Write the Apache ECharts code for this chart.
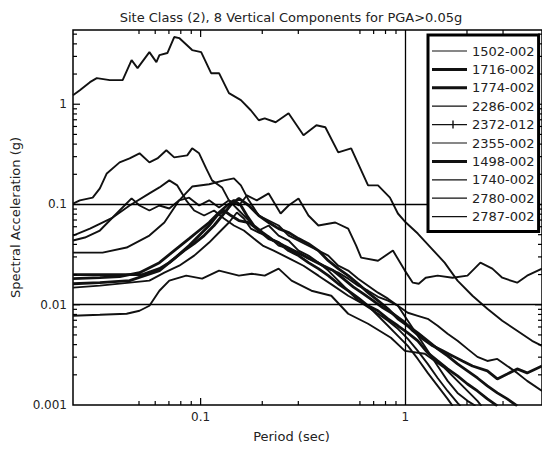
<!DOCTYPE html>
<html>
<head>
<meta charset="utf-8">
<script src="https://cdn.jsdelivr.net/npm/echarts@6/dist/echarts.min.js"></script>
<style>
html,body{margin:0;padding:0;background:#fff;}
#chart{width:542px;height:457px;}
</style>
</head>
<body>
<div id="chart"></div>
<script>
// ---- data: [period (sec), spectral acceleration (g)] ----
const s1502 = [[0.0238,1.23],[0.0257,1.38],[0.0288,1.66],[0.0311,1.82],[0.036,1.74],[0.0416,1.74],[0.046,2.75],[0.0492,2.29],[0.0562,3.31],[0.0608,2.63],[0.0629,3.09],[0.0688,3.24],[0.0743,4.68],[0.0786,4.57],[0.0909,3.47],[0.1006,3.31],[0.1125,2.04],[0.123,2.04],[0.1375,1.29],[0.1573,1.10],[0.1758,0.871],[0.1923,0.692],[0.2056,0.724],[0.2325,0.661],[0.2689,0.813],[0.318,0.49],[0.3677,0.617],[0.4066,0.589],[0.4701,0.331],[0.5437,0.363],[0.6574,0.155],[0.7352,0.155],[0.841,0.117],[0.9195,0.0813],[1.0056,0.0661],[1.15,0.0513],[1.33,0.0372],[1.555,0.0263],[1.798,0.0174],[2.127,0.0123],[2.515,0.00912],[2.974,0.00692],[3.517,0.0055],[4.158,0.00437],[4.651,0.00389]];
const s1716 = [[0.0238,0.02],[0.052,0.02],[0.0629,0.0229],[0.0703,0.0263],[0.0831,0.0347],[0.093,0.0407],[0.104,0.049],[0.1163,0.0617],[0.13,0.0813],[0.1422,0.102],[0.1538,0.115],[0.1719,0.0977],[0.1923,0.0776],[0.215,0.0661],[0.2404,0.0575],[0.2689,0.0525],[0.3007,0.0457],[0.3362,0.0407],[0.376,0.0347],[0.4204,0.0275],[0.4701,0.0229],[0.5257,0.0195],[0.5879,0.0162],[0.6574,0.0132],[0.7352,0.011],[0.8222,0.00912],[0.9195,0.00724],[1.028,0.00617],[1.15,0.00525],[1.286,0.00437],[1.438,0.00363],[1.608,0.00309],[1.798,0.00257],[2.011,0.00219],[2.249,0.00186],[2.515,0.00155],[2.812,0.00132],[3.145,0.00115],[3.517,0.00098]];
const s1774 = [[0.0238,0.0182],[0.0322,0.0186],[0.0402,0.0191],[0.0503,0.0209],[0.0629,0.0263],[0.0743,0.0347],[0.0879,0.0457],[0.0983,0.055],[0.11,0.0661],[0.123,0.0832],[0.1345,0.0977],[0.1454,0.11],[0.1573,0.0977],[0.1682,0.0776],[0.1818,0.0617],[0.201,0.0525],[0.2274,0.0437],[0.2543,0.0389],[0.2843,0.0347],[0.318,0.0309],[0.3556,0.0275],[0.3976,0.0245],[0.4446,0.0219],[0.4972,0.0182],[0.556,0.0151],[0.6219,0.0129],[0.6954,0.011],[0.7775,0.00933],[0.8696,0.00813],[0.9725,0.00692],[1.0875,0.0055],[1.216,0.00457],[1.36,0.00389],[1.521,0.00347],[1.701,0.00309],[1.901,0.00275],[2.127,0.00245],[2.515,0.00219],[2.812,0.00182],[3.145,0.00204],[3.517,0.00229],[3.933,0.00209],[4.651,0.00245]];
const s2286 = [[0.0238,0.102],[0.0257,0.11],[0.0297,0.117],[0.0322,0.145],[0.0348,0.204],[0.0402,0.263],[0.045,0.288],[0.0503,0.324],[0.0562,0.263],[0.0615,0.288],[0.068,0.347],[0.0743,0.295],[0.086,0.309],[0.0909,0.363],[0.0983,0.324],[0.1064,0.229],[0.1137,0.174],[0.1272,0.148],[0.1375,0.11],[0.1538,0.0871],[0.1719,0.0692],[0.1923,0.055],[0.215,0.0617],[0.2404,0.049],[0.2689,0.0437],[0.3007,0.0347],[0.3362,0.0309],[0.376,0.0263],[0.4204,0.0219],[0.4701,0.0174],[0.5257,0.0138],[0.5879,0.011],[0.6574,0.00977],[0.7352,0.00776],[0.8222,0.00617],[0.9195,0.0049],[1.028,0.00389],[1.15,0.00288],[1.286,0.00209],[1.438,0.00155],[1.608,0.00115],[1.701,0.00098]];
const s2372 = [[0.0238,0.049],[0.0288,0.0575],[0.0372,0.0741],[0.045,0.0977],[0.0562,0.129],[0.0629,0.148],[0.0703,0.174],[0.0769,0.155],[0.085,0.11],[0.093,0.0871],[0.104,0.0776],[0.1163,0.0871],[0.13,0.0724],[0.1454,0.0617],[0.1626,0.055],[0.1818,0.0457],[0.201,0.0389],[0.2274,0.0347],[0.2543,0.0309],[0.2843,0.0275],[0.318,0.0245],[0.376,0.0195],[0.4446,0.0155],[0.5257,0.0123],[0.6219,0.0102],[0.7352,0.00813],[0.8222,0.00692],[0.9195,0.00575],[1.028,0.00457],[1.15,0.00347],[1.286,0.00257],[1.438,0.00186],[1.608,0.00138],[1.798,0.00105],[1.859,0.00098]];
const s2355 = [[0.0238,0.0331],[0.0332,0.0331],[0.0435,0.0372],[0.0562,0.049],[0.0665,0.0661],[0.0786,0.11],[0.0909,0.151],[0.11,0.159],[0.13,0.174],[0.1454,0.182],[0.1573,0.155],[0.1719,0.11],[0.1923,0.0776],[0.215,0.0692],[0.2404,0.0617],[0.2689,0.049],[0.3007,0.0437],[0.3362,0.0389],[0.376,0.0347],[0.4204,0.0309],[0.4701,0.0245],[0.5257,0.0219],[0.5879,0.0182],[0.6574,0.0155],[0.7352,0.0132],[0.8222,0.0115],[0.9195,0.00977],[1.028,0.00692],[1.15,0.0049],[1.286,0.00347],[1.438,0.00245],[1.608,0.00174],[1.798,0.00132],[2.011,0.0011],[2.199,0.00098]];
const s1498 = [[0.0238,0.0162],[0.0322,0.0166],[0.045,0.0174],[0.0532,0.0195],[0.0629,0.0219],[0.0743,0.0288],[0.0879,0.0389],[0.0983,0.049],[0.11,0.0617],[0.1202,0.0776],[0.13,0.0871],[0.1406,0.0776],[0.1538,0.0692],[0.1719,0.0661],[0.1923,0.055],[0.215,0.0457],[0.2404,0.0417],[0.2689,0.0347],[0.3007,0.0309],[0.3362,0.0263],[0.376,0.0229],[0.4204,0.0195],[0.4701,0.0162],[0.5257,0.0138],[0.5879,0.0117],[0.6574,0.00977],[0.7352,0.00871],[0.8222,0.00724],[0.9195,0.00617],[1.028,0.00525],[1.15,0.00437],[1.286,0.00331],[1.438,0.00275],[1.608,0.00229],[1.798,0.00195],[2.011,0.00162],[2.249,0.00138],[2.515,0.00115],[2.812,0.00098]];
const s1740 = [[0.0238,0.0437],[0.0272,0.0468],[0.0322,0.055],[0.038,0.0776],[0.0425,0.0977],[0.046,0.115],[0.0503,0.0977],[0.0562,0.0871],[0.0629,0.0977],[0.0703,0.0912],[0.0786,0.11],[0.0879,0.117],[0.0983,0.0977],[0.11,0.11],[0.123,0.0933],[0.1375,0.11],[0.1538,0.0977],[0.1682,0.123],[0.188,0.11],[0.215,0.129],[0.2459,0.0813],[0.2689,0.0977],[0.3007,0.115],[0.3362,0.0776],[0.376,0.0617],[0.4547,0.0661],[0.5257,0.0575],[0.575,0.0389],[0.6081,0.0295],[0.7352,0.0275],[0.8696,0.0347],[0.9945,0.0219],[1.0875,0.0166],[1.163,0.0162],[1.257,0.0186],[1.438,0.0195],[1.701,0.0186],[2.011,0.0195],[2.326,0.0263],[2.66,0.0229],[2.974,0.0186],[3.517,0.0166],[3.933,0.0195],[4.651,0.0229]];
const s2780 = [[0.0238,0.0148],[0.0322,0.0155],[0.045,0.0166],[0.0562,0.0174],[0.0665,0.0209],[0.0786,0.0245],[0.093,0.0309],[0.11,0.0417],[0.123,0.0525],[0.1375,0.0661],[0.1504,0.0832],[0.1626,0.0724],[0.1758,0.0575],[0.1923,0.0525],[0.215,0.0479],[0.2404,0.0389],[0.2689,0.0363],[0.3007,0.0331],[0.3362,0.0288],[0.376,0.0263],[0.4204,0.0229],[0.4701,0.0209],[0.5257,0.0182],[0.5879,0.0155],[0.6574,0.0138],[0.7352,0.012],[0.8222,0.011],[0.9195,0.00977],[1.028,0.00832],[1.15,0.00776],[1.286,0.00724],[1.438,0.00617],[1.608,0.00513],[1.798,0.00437],[2.011,0.00363],[2.249,0.00302],[2.515,0.00275],[2.812,0.00288],[3.145,0.00245],[3.517,0.00209],[3.933,0.00174],[4.651,0.00138]];
const s2787 = [[0.0238,0.00776],[0.0322,0.00794],[0.0435,0.00813],[0.0503,0.00871],[0.0562,0.00977],[0.0629,0.0138],[0.0703,0.0174],[0.085,0.0195],[0.1017,0.0182],[0.123,0.0219],[0.1538,0.0195],[0.1778,0.0204],[0.2056,0.0195],[0.2404,0.0229],[0.278,0.0174],[0.3478,0.0138],[0.4347,0.0123],[0.5257,0.00813],[0.6574,0.00646],[0.8504,0.00468],[0.9945,0.00347],[1.244,0.00324],[1.555,0.00234],[1.944,0.00148],[2.249,0.0011],[2.352,0.00098]];

const seriesNames = ['1502-002','1716-002','1774-002','2286-002','2372-012','2355-002','1498-002','1740-002','2780-002','2787-002'];
const seriesData  = [s1502, s1716, s1774, s2286, s2372, s2355, s1498, s1740, s2780, s2787];
const thickSeries = ['1716-002','1774-002','1498-002'];
const markerSeries = ['2372-012'];

// axis ranges and ticks
const xRange = [0.0238, 4.65];
const yRange = [0.001, 5.5];
const xTicksMinor = [0.05,0.06,0.07,0.08,0.09,0.2,0.3,0.6,0.7,0.8,0.9,2,3];
const xTicksMajor = [0.1];
const yTicksMinor = [0.002,0.003,0.004,0.005,0.006,0.007,0.008,0.009,0.02,0.03,0.04,0.05,0.06,0.07,0.08,0.09,0.2,0.3,0.4,0.5,0.6,0.7,0.8,0.9,2,3,4,5];
const yTicksMajor = [0.01,0.1,1];
const gridY = [0.1, 0.01];
const gridX = [1];

const titleText = 'Site Class (2), 8 Vertical Components for PGA>0.05g';
const xName = 'Period (sec)';
const yName = 'Spectral Acceleration (g)';

const FONT = 'DejaVu Sans';
const INK = '#111';

// legend glyphs (35 x 14 box): a horizontal stroke, optionally with a "+" marker
const CORNERS = 'M0,0L0.01,0L0.01,0.01ZM34.99,13.99L35,13.99L35,14L34.99,14Z';
const ICON_THIN = 'path://' + CORNERS + 'M0,6.4L35,6.4L35,7.6L0,7.6Z';
const ICON_THICK = 'path://' + CORNERS + 'M0,5.5L35,5.5L35,8.5L0,8.5Z';
const ICON_PLUS = 'path://' + CORNERS + 'M0,6.4L35,6.4L35,7.6L0,7.6ZM20.3,3L21.7,3L21.7,11L20.3,11Z';

function powLabel(v) {
  const l = Math.log10(v);
  const e = Math.round(l);
  if (Math.abs(l - e) > 1e-6) return '';
  return e >= 0 ? String(Math.pow(10, e)) : Math.pow(10, e).toFixed(-e);
}

function xTickRender(len) {
  return function (params, api) {
    const cs = params.coordSys;
    const px = api.coord([api.value(0), 1])[0];
    const b = cs.y + cs.height, t = cs.y;
    const st = { stroke: '#000', lineWidth: 1.2 };
    return { type: 'group', children: [
      { type: 'line', shape: { x1: px, y1: b, x2: px, y2: b - len }, style: st },
      { type: 'line', shape: { x1: px, y1: t, x2: px, y2: t + len }, style: st }
    ]};
  };
}
function yTickRender(len) {
  return function (params, api) {
    const cs = params.coordSys;
    const py = api.coord([1, api.value(1)])[1];
    const l = cs.x, r = cs.x + cs.width;
    const st = { stroke: '#000', lineWidth: 1.2 };
    return { type: 'group', children: [
      { type: 'line', shape: { x1: l, y1: py, x2: l + len, y2: py }, style: st },
      { type: 'line', shape: { x1: r, y1: py, x2: r - len, y2: py }, style: st }
    ]};
  };
}

const lineSeries = seriesNames.map(function (name, i) {
  const thick = thickSeries.indexOf(name) >= 0;
  const s = {
    name: name,
    type: 'line',
    data: seriesData[i],
    symbol: 'none',
    showSymbol: false,
    lineStyle: { color: INK, width: thick ? 2.8 : 1.9 },
    itemStyle: { color: INK },
    emphasis: { disabled: true },
    z: 3
  };
  if (i === 0) {
    s.markLine = {
      silent: true,
      symbol: ['none', 'none'],
      label: { show: false },
      lineStyle: { color: '#000', width: 1.3, type: 'solid' },
      emphasis: { disabled: true },
      data: gridY.map(v => ({ yAxis: v })).concat(gridX.map(v => ({ xAxis: v })))
    };
  }
  return s;
});

const legendData = seriesNames.map(function (name) {
  let icon = ICON_THIN;
  if (thickSeries.indexOf(name) >= 0) icon = ICON_THICK;
  if (markerSeries.indexOf(name) >= 0) icon = ICON_PLUS;
  return { name: name, icon: icon };
});

const tickSeries = [
  { type: 'custom', silent: true, clip: false, renderItem: xTickRender(4), data: xTicksMinor.map(v => [v, 1]), z: 4 },
  { type: 'custom', silent: true, clip: false, renderItem: xTickRender(7), data: xTicksMajor.map(v => [v, 1]), z: 4 },
  { type: 'custom', silent: true, clip: false, renderItem: yTickRender(4), data: yTicksMinor.map(v => [1, v]), z: 4 },
  { type: 'custom', silent: true, clip: false, renderItem: yTickRender(7), data: yTicksMajor.map(v => [1, v]), z: 4 }
];

const chart = echarts.init(document.getElementById('chart'), null, { renderer: 'svg', width: 542, height: 457 });
chart.setOption({
  animation: false,
  backgroundColor: '#fff',
  title: {
    text: titleText,
    left: 286, top: 6, textAlign: 'center',
    textStyle: { fontFamily: FONT, fontSize: 13, fontWeight: 'normal', color: '#222' }
  },
  grid: { left: 73, top: 30, width: 472, height: 375, show: true, borderColor: '#000', borderWidth: 1.5, backgroundColor: '#fff' },
  legend: {
    data: legendData,
    orient: 'vertical',
    left: 428, top: 35,
    padding: [9, 4, 8, 4],
    itemWidth: 35, itemHeight: 14, itemGap: 4.4,
    borderColor: '#000', borderWidth: 3, backgroundColor: '#fff',
    textStyle: { fontFamily: FONT, fontSize: 13, color: '#222' },
    itemStyle: { color: INK, borderWidth: 0 },
    symbolKeepAspect: false,
    selectedMode: false,
    z: 10
  },
  xAxis: {
    type: 'log', logBase: 10, min: xRange[0], max: xRange[1],
    axisLine: { show: false }, axisTick: { show: false }, splitLine: { show: false }, minorTick: { show: false },
    axisLabel: { formatter: powLabel, fontFamily: FONT, fontSize: 12, color: '#222', margin: 6, showMinLabel: false, showMaxLabel: false },
    name: xName, nameLocation: 'middle', nameGap: 25,
    nameTextStyle: { fontFamily: FONT, fontSize: 13, color: '#222', padding: [0, 32, 0, 0] }
  },
  yAxis: {
    type: 'log', logBase: 10, min: yRange[0], max: yRange[1],
    axisLine: { show: false }, axisTick: { show: false }, splitLine: { show: false }, minorTick: { show: false },
    axisLabel: { formatter: powLabel, fontFamily: FONT, fontSize: 12, color: '#222', margin: 6, showMaxLabel: false },
    name: yName, nameLocation: 'middle', nameGap: 51,
    nameTextStyle: { fontFamily: FONT, fontSize: 13, color: '#222' }
  },
  series: lineSeries.concat(tickSeries)
});
</script>
</body>
</html>
